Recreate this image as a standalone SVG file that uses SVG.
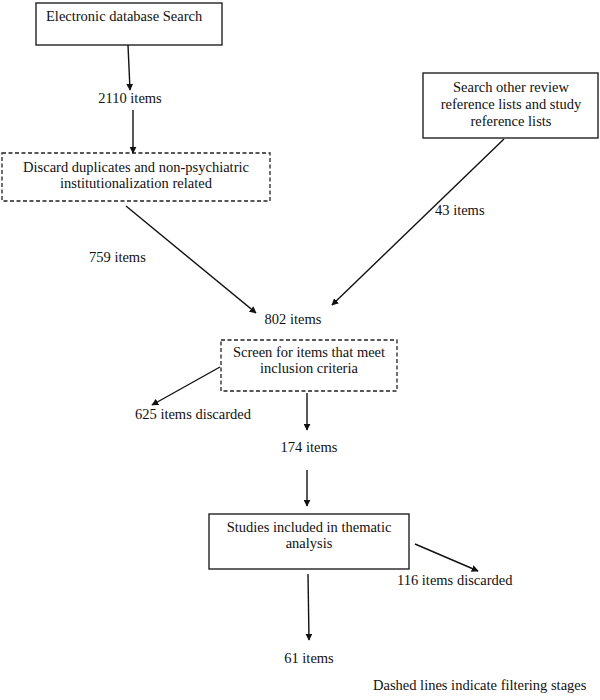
<svg xmlns="http://www.w3.org/2000/svg" width="600" height="700" viewBox="0 0 600 700">
<style>
text{font-family:"Liberation Serif","Times New Roman",serif;font-size:14.5px;fill:#111;}
.m{text-anchor:middle;}
.box{fill:#fff;stroke:#222;stroke-width:1.4;}
.dash{fill:#fff;stroke:#222;stroke-width:1.3;stroke-dasharray:4,2.5;}
.c line{stroke:#111;stroke-width:1.4;marker-end:url(#ah);}
</style>
<defs>
<marker id="ah" viewBox="0 0 10 10" refX="9" refY="5" markerWidth="7" markerHeight="7" markerUnits="userSpaceOnUse" orient="auto">
<path d="M0,0 L10,5 L0,10 z" fill="#111"/>
</marker>
</defs>
<rect width="600" height="700" fill="#fff"/>
<g id="n1"><rect class="box" x="36" y="3" width="186" height="42"/><text x="46" y="21">Electronic database Search</text></g>
<g id="n2"><text class="m" x="130" y="103">2110 items</text></g>
<g id="n3"><rect class="dash" x="2" y="153" width="268" height="48"/><text class="m" x="136" y="172">Discard duplicates and non-psychiatric</text><text class="m" x="136" y="188">institutionalization related</text></g>
<g id="n4"><rect class="box" x="423" y="73" width="175" height="65"/><text class="m" x="511" y="92">Search other review</text><text class="m" x="511" y="109">reference lists and study</text><text class="m" x="511" y="126">reference lists</text></g>
<g id="n5"><text x="89" y="262">759 items</text></g>
<g id="n6"><text x="435" y="215">43 items</text></g>
<g id="n7"><text class="m" x="293" y="324">802 items</text></g>
<g id="n8"><rect class="dash" x="221" y="340" width="176" height="51"/><text class="m" x="309" y="357">Screen for items that meet</text><text class="m" x="309" y="373">inclusion criteria</text></g>
<g id="n9"><text x="135" y="419">625 items discarded</text></g>
<g id="n10"><text class="m" x="309" y="452">174 items</text></g>
<g id="n11"><rect class="box" x="209" y="514" width="200" height="55"/><text class="m" x="309" y="532">Studies included in thematic</text><text class="m" x="309" y="548">analysis</text></g>
<g id="n12"><text x="397" y="585">116 items discarded</text></g>
<g id="n13"><text class="m" x="309" y="663">61 items</text></g>
<g id="n14"><text x="373" y="690">Dashed lines indicate filtering stages</text></g>
<g class="c" id="connectors">
<line x1="128" y1="45" x2="130" y2="90"/>
<line x1="133" y1="110" x2="133" y2="153"/>
<line x1="126" y1="206" x2="256" y2="313"/>
<line x1="504" y1="139" x2="332" y2="305"/>
<line x1="220" y1="367" x2="152" y2="405"/>
<line x1="307" y1="393" x2="307" y2="430"/>
<line x1="307" y1="470" x2="307" y2="506"/>
<line x1="415" y1="544" x2="478" y2="571"/>
<line x1="308" y1="574" x2="309" y2="640"/>
</g>
</svg>
